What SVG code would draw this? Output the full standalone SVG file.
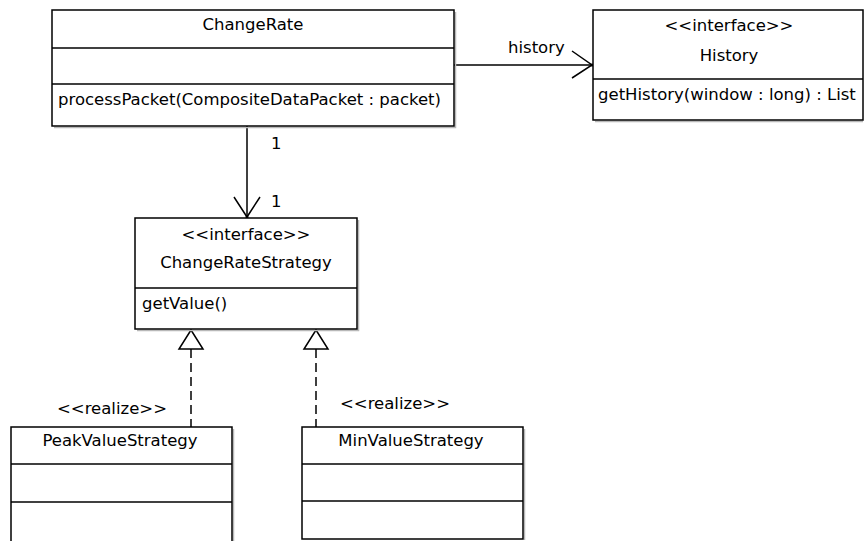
<svg xmlns="http://www.w3.org/2000/svg" width="864" height="541" viewBox="0 0 864 541">
  <style>
    .box { fill: #ffffff; stroke: #000000; stroke-width: 1.5; }
    .shadow { fill: none; stroke: #b8b8b8; stroke-width: 1.5; }
    .sep { stroke: #000000; stroke-width: 1.5; }
    .txt { font-family: "DejaVu Sans", Verdana, sans-serif; font-size: 16.5px; fill: #000000; }
    .mid { text-anchor: middle; }
    .edge { fill: none; stroke: #000000; stroke-width: 1.5; }
    .dash { stroke-dasharray: 9 5; }
    .tri { fill: #ffffff; stroke: #000000; stroke-width: 1.5; }
  </style>

  <!-- connectors -->
  <g id="connectors">
    <!-- ChangeRate -> History (navigable association) -->
    <line class="edge" x1="454" y1="65" x2="592" y2="65"/>
    <polyline class="edge" points="572,51 592,65 572,78"/>
    <circle cx="592" cy="65" r="1.5" fill="#000"/>
    <text class="txt" x="508" y="53">history</text>

    <!-- ChangeRate -> ChangeRateStrategy -->
    <line class="edge" x1="247" y1="126" x2="247" y2="217"/>
    <polyline class="edge" points="234,197 247,217 260,197"/>
    <circle cx="247" cy="217" r="1.5" fill="#000"/>
    <text class="txt" x="271" y="149">1</text>
    <text class="txt" x="271" y="207">1</text>

    <!-- realizations -->
    <line class="edge dash" x1="191" y1="349" x2="191" y2="427"/>
    <polygon class="tri" points="191,330 179,349 203,349"/>
    <text class="txt" x="57" y="414">&lt;&lt;realize&gt;&gt;</text>

    <line class="edge dash" x1="316" y1="349" x2="316" y2="427"/>
    <polygon class="tri" points="316,330 304,349 328,349"/>
    <text class="txt" x="340" y="409">&lt;&lt;realize&gt;&gt;</text>
  </g>

  <!-- ChangeRate class -->
  <g id="ChangeRate">
    <polyline class="shadow" points="455.5,12 455.5,127.5 54,127.5"/>
    <rect class="box" x="52" y="10" width="402" height="116"/>
    <line class="sep" x1="52" y1="48" x2="454" y2="48"/>
    <line class="sep" x1="52" y1="84" x2="454" y2="84"/>
    <text class="txt mid" x="253" y="30">ChangeRate</text>
    <text class="txt" x="58" y="105">processPacket(CompositeDataPacket : packet)</text>
  </g>

  <!-- History interface -->
  <g id="History">
    <polyline class="shadow" points="595,121.5 863,121.5"/>
    <rect class="box" x="593" y="10" width="270" height="110"/>
    <line class="sep" x1="593" y1="79" x2="863" y2="79"/>
    <text class="txt mid" x="729" y="31">&lt;&lt;interface&gt;&gt;</text>
    <text class="txt mid" x="729" y="61">History</text>
    <text class="txt" x="598" y="100">getHistory(window : long) : List</text>
  </g>

  <!-- ChangeRateStrategy interface -->
  <g id="ChangeRateStrategy">
    <polyline class="shadow" points="358.5,220 358.5,330.5 137,330.5"/>
    <rect class="box" x="135" y="218" width="222" height="111"/>
    <line class="sep" x1="135" y1="288" x2="357" y2="288"/>
    <text class="txt mid" x="246" y="240">&lt;&lt;interface&gt;&gt;</text>
    <text class="txt mid" x="246" y="268">ChangeRateStrategy</text>
    <text class="txt" x="142" y="309">getValue()</text>
  </g>

  <!-- PeakValueStrategy class -->
  <g id="PeakValueStrategy">
    <polyline class="shadow" points="233.5,429 233.5,545"/>
    <rect class="box" x="11" y="427" width="221" height="120"/>
    <line class="sep" x1="11" y1="464" x2="232" y2="464"/>
    <line class="sep" x1="11" y1="502" x2="232" y2="502"/>
    <text class="txt mid" x="120" y="446">PeakValueStrategy</text>
  </g>

  <!-- MinValueStrategy class -->
  <g id="MinValueStrategy">
    <polyline class="shadow" points="524.5,429 524.5,540"/>
    <rect class="box" x="302" y="427" width="221" height="112"/>
    <line class="sep" x1="302" y1="464" x2="523" y2="464"/>
    <line class="sep" x1="302" y1="501" x2="523" y2="501"/>
    <text class="txt mid" x="411" y="446">MinValueStrategy</text>
  </g>
</svg>
